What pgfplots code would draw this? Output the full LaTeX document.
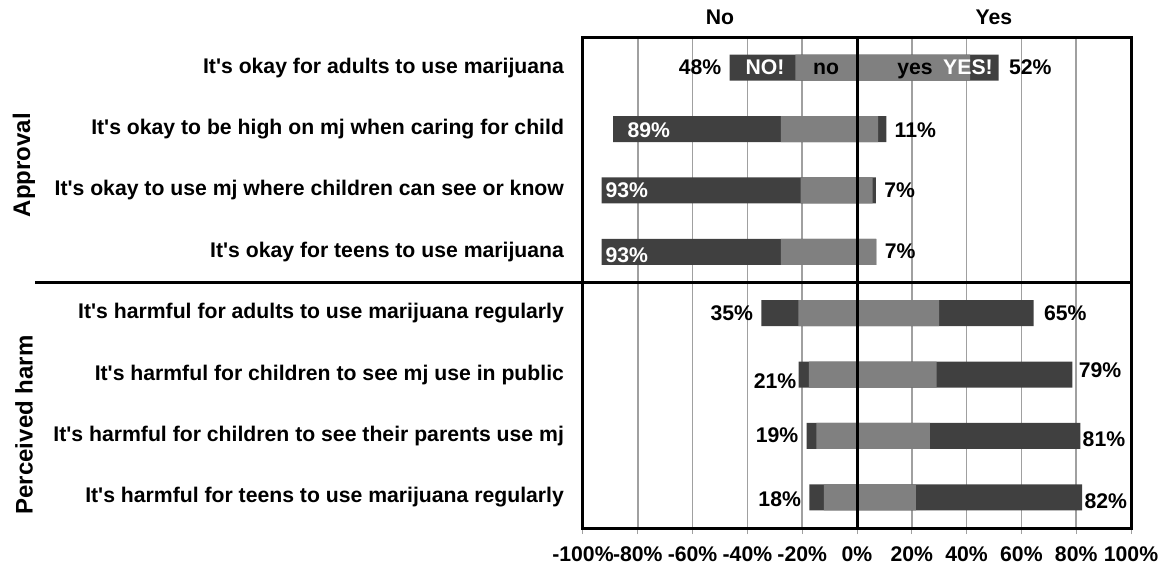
\documentclass[border=0pt]{standalone}
\usepackage{fontspec}
\setmainfont{Liberation Sans}
\usepackage{pgfplots}
\pgfplotsset{compat=1.18}
\definecolor{dk}{HTML}{404040}
\definecolor{lt}{HTML}{808080}
\definecolor{gr}{HTML}{A0A0A0}
\newcommand{\q}{\textquotesingle}
\begin{document}
\begin{tikzpicture}[font=\fontsize{10.6}{12}\selectfont\bfseries]
\begin{axis}[
  at={(0,0)}, anchor=south west, scale only axis,
  width=274pt, height=245.5pt,
  xmin=-100, xmax=100, ymin=0.5, ymax=8.5, y dir=reverse,
  xbar, bar width=13pt, bar shift=0pt,
  clip=false,
  axis line style={line width=1.5pt},
  xtick={-100,-80,...,100},
  xticklabel={\pgfmathprintnumber{\tick}\%},
  /pgf/number format/assume math mode=true,
  xmajorgrids, grid style={gr, line width=0.8pt},
  tick align=outside, xtick pos=lower, major tick length=3pt,
  xtick style={gr, line width=0.5pt},
  ytick={1,...,8}, ytick style={draw=none},
  yticklabels={It\q s okay for adults to use marijuana,
    It\q s okay to be high on mj when caring for child,
    It\q s okay to use mj where children can see or know,
    It\q s okay for teens to use marijuana,
    It\q s harmful for adults to use marijuana regularly,
    It\q s harmful for children to see mj use in public,
    It\q s harmful for children to see their parents use mj,
    It\q s harmful for teens to use marijuana regularly},
  yticklabel style={anchor=east, xshift=-3pt},
  xticklabel style={yshift=-3pt},
  every node near coord/.append style={},
]
% total "no" (strong + mild), drawn first
\addplot[fill=dk, draw=none] coordinates {(-46.5,1) (-89,2) (-93.2,3) (-93.2,4) (-34.9,5) (-21.3,6) (-18.4,7) (-17.4,8)};
% mild "no"
\addplot[fill=lt, draw=none] coordinates {(-22.5,1) (-27.8,2) (-20.6,3) (-27.8,4) (-21.4,5) (-17.6,6) (-14.8,7) (-12.1,8)};
% total "yes"
\addplot[fill=dk, draw=none] coordinates {(51.7,1) (10.7,2) (6.9,3) (7.1,4) (64.5,5) (78.6,6) (81.5,7) (82.2,8)};
% mild "yes"
\addplot[fill=lt, draw=none] coordinates {(41.3,1) (7.7,2) (5.7,3) (6.9,4) (30.0,5) (29.1,6) (26.6,7) (21.5,8)};

\draw[line width=1.5pt] (axis cs:0,0.5) -- (axis cs:0,8.5);
\draw[line width=1.5pt] (axis cs:100,4.5) -- ([xshift=-274pt]axis cs:-100,4.5);

\begin{scope}[every node/.style={text height=1.6ex, text depth=0.3ex, inner sep=1pt}]
% header
\node at ([yshift=9.5pt]axis cs:-50,0.5) {No};
\node at ([yshift=9.5pt]axis cs:50,0.5) {Yes};
% row 1
\node[anchor=east] at ([xshift=-3pt]axis cs:-46.5,1) {48\%};
\node[text=white] at (axis cs:-33.6,1) {NO!};
\node at (axis cs:-11.3,1) {no};
\node at (axis cs:21.2,1) {yes};
\node[text=white] at (axis cs:40.5,1) {YES!};
\node[anchor=west] at ([xshift=4pt]axis cs:51.7,1) {52\%};
% rows 2-4
\node[text=white] at ([yshift=-1pt]axis cs:-76,2) {89\%};
\node[anchor=west] at ([xshift=3pt,yshift=-1pt]axis cs:10.7,2) {11\%};
\node[text=white] at (axis cs:-84,3) {93\%};
\node[anchor=west] at ([xshift=3pt]axis cs:6.9,3) {7\%};
\node[text=white] at ([yshift=-2pt]axis cs:-84,4) {93\%};
\node[anchor=west] at ([xshift=3pt]axis cs:7.1,4) {7\%};
% rows 5-8
\node[anchor=east] at ([xshift=-3pt]axis cs:-34.9,5) {35\%};
\node[anchor=west] at ([xshift=4pt]axis cs:64.5,5) {65\%};
\node[anchor=east] at ([xshift=0pt,yshift=-3.5pt]axis cs:-21.3,6) {21\%};
\node[anchor=west] at ([xshift=2pt,yshift=2pt]axis cs:78.6,6) {79\%};
\node[anchor=east] at ([xshift=-3pt]axis cs:-18.4,7) {19\%};
\node[anchor=west] at ([xshift=0pt,yshift=-2pt]axis cs:81.5,7) {81\%};
\node[anchor=east] at ([xshift=-3pt,yshift=-1pt]axis cs:-17.4,8) {18\%};
\node[anchor=west] at ([xshift=0pt,yshift=-2pt]axis cs:82.2,8) {82\%};
\end{scope}
\end{axis}
\node[rotate=90, font=\fontsize{12}{14}\selectfont\bfseries] at (-279.5pt,181.5pt) {Approval};
\node[rotate=90, font=\fontsize{12}{14}\selectfont\bfseries] at (-279.5pt,51.5pt) {Perceived harm};
\pgfresetboundingbox
\path (-291.5pt,-22pt) rectangle (293.5pt,264pt);
\end{tikzpicture}
\end{document}
